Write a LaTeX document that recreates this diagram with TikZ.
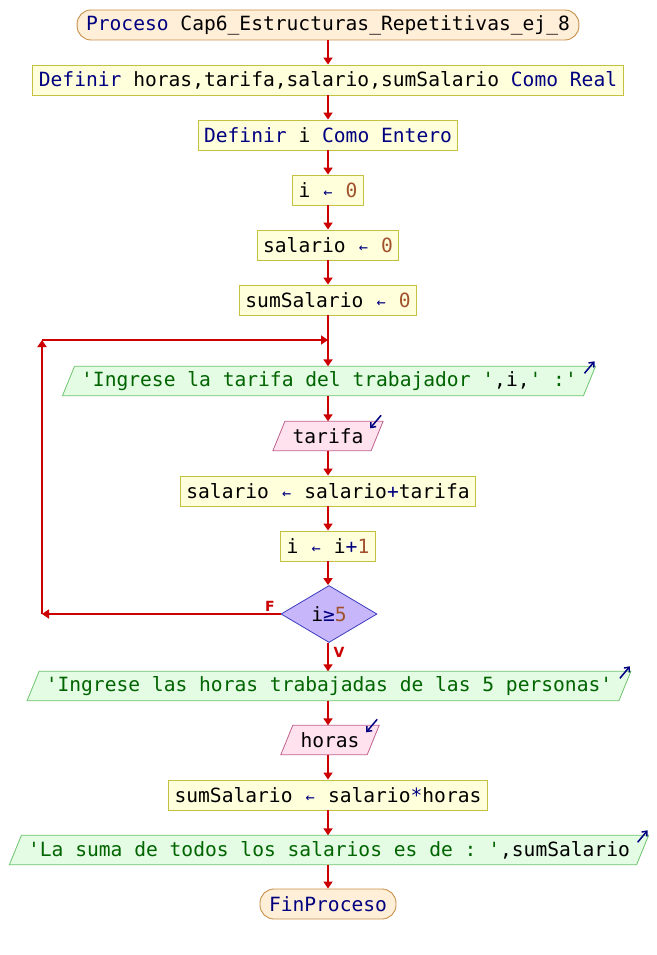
\documentclass[tikz,border=0pt]{standalone}
\usepackage{fontspec}
\usepackage{graphicx}
\setmonofont{DejaVu Sans Mono}
\setsansfont{DejaVu Sans}
\usetikzlibrary{arrows.meta,shapes.geometric,calc}
\pgfdeclarelayer{bg}
\pgfsetlayers{bg,main}

\definecolor{kwc}{HTML}{000080}
\definecolor{strc}{HTML}{006400}
\definecolor{numc}{HTML}{A0522D}
\definecolor{flowc}{HTML}{CC0000}
\definecolor{termfill}{HTML}{FFEFD8}
\definecolor{termdraw}{HTML}{C8904A}
\definecolor{procfill}{HTML}{FFFFDC}
\definecolor{procdraw}{HTML}{C4C040}
\definecolor{outfill}{HTML}{E4FBE4}
\definecolor{outdraw}{HTML}{6CC46C}
\definecolor{infill}{HTML}{FFE2EE}
\definecolor{indraw}{HTML}{C0608E}
\definecolor{decfill}{HTML}{C8B6FA}
\definecolor{decdraw}{HTML}{3C3CC0}

\newcommand\kw[1]{\textcolor{kwc}{#1}}
\newcommand\str[1]{\textcolor{strc}{#1}}
\newcommand\num[1]{\textcolor{numc}{#1}}
\newcommand\op[1]{\textcolor{kwc}{#1}}
\newcommand\asg{\makebox[0.602em]{\textcolor{kwc}{\scalebox{0.78}{←}}}}

% parallelogram behind an input/output node
\newcommand\ioshape[3]{%
  \begin{pgfonlayer}{bg}
    \filldraw[fill=#2,draw=#3,line width=0.8pt]
      ($(#1.south west)+(-6,0)$) -- ($(#1.north west)+(6,0)$) --
      ($(#1.north east)+(6,0)$) -- ($(#1.south east)+(-6,0)$) -- cycle;
  \end{pgfonlayer}}
% small icon arrows on output (up-right) and input (down-left)
\newcommand\outicon[1]{%
  \draw[icon] ($(#1.north east)+(-5,7)$) -- ($(#1.north east)+(5,-5)$);}
\newcommand\inicon[1]{%
  \draw[icon] ($(#1.north east)+(4,-6)$) -- ($(#1.north east)+(-7,7)$);}

\begin{document}
\begin{tikzpicture}[x=1pt,y=-1pt,
  base/.style={font=\ttfamily\fontsize{19.6}{22}\selectfont, inner ysep=0pt,
    minimum height=30pt, anchor=center},
  term/.style={base, rectangle, rounded corners=14pt, fill=termfill,
    draw=termdraw, line width=0.9pt, inner xsep=9pt},
  proc/.style={base, rectangle, fill=procfill, draw=procdraw,
    line width=0.9pt, inner xsep=6pt},
  outnode/.style={base, rectangle, minimum height=29pt, inner xsep=12.5pt},
  innode/.style={base, rectangle, minimum height=29pt, inner xsep=13.5pt},
  dec/.style={base, diamond, fill=decfill, draw=decdraw, line width=0.8pt,
    inner sep=0pt, minimum width=96pt, minimum height=57pt},
  flow/.style={draw=flowc, line width=1.8pt,
    -{Triangle[length=7pt,width=9pt]}},
  icon/.style={draw=kwc, line width=1.5pt, -{Straight Barb[length=4pt,width=7pt]}},
  lbl/.style={text=flowc, font=\sffamily\bfseries\fontsize{14}{14}\selectfont}]

\useasboundingbox (0,0) rectangle (656,955);

\node[term] (p0) at (328,25) {\kw{Proceso} Cap6\_Estructuras\_Repetitivas\_ej\_8};
\node[proc] (p1) at (328,80) {\kw{Definir} horas,tarifa,salario,sumSalario \kw{Como} \kw{Real}};
\node[proc] (p2) at (328,135) {\kw{Definir} i \kw{Como} \kw{Entero}};
\node[proc] (a1) at (328,190) {i \asg{} \num{0}};
\node[proc] (a2) at (328,245) {salario \asg{} \num{0}};
\node[proc] (a3) at (328,300) {sumSalario \asg{} \num{0}};
\node[outnode] (o1) at (329,381) {\str{'Ingrese la tarifa del trabajador '},i,\str{' :'}};
\node[innode] (in1) at (328,436) {tarifa};
\node[proc] (a4) at (328,491) {salario \asg{} salario\op{+}tarifa};
\node[proc] (a5) at (328,546) {i \asg{} i\op{+}\num{1}};
\node[dec] (d) at (329,614) {i\op{≥}\num{5}};
\node[outnode] (o2) at (329,686) {\str{'Ingrese las horas trabajadas de las 5 personas'}};
\node[innode] (in2) at (330,740) {horas};
\node[proc] (a6) at (328,795) {sumSalario \asg{} salario\op{*}horas};
\node[outnode] (o3) at (329,850) {\str{'La suma de todos los salarios es de : '},sumSalario};
\node[term] (p9) at (328,904) {\kw{FinProceso}};

\ioshape{o1}{outfill}{outdraw}
\ioshape{o2}{outfill}{outdraw}
\ioshape{o3}{outfill}{outdraw}
\ioshape{in1}{infill}{indraw}
\ioshape{in2}{infill}{indraw}

\outicon{o1}
\outicon{o2}
\outicon{o3}
\inicon{in1}
\inicon{in2}

% straight flow down the middle
\draw[flow] (p0.south) -- (p0.south |- p1.north);
\draw[flow] (p1.south) -- (p1.south |- p2.north);
\draw[flow] (p2.south) -- (p2.south |- a1.north);
\draw[flow] (a1.south) -- (a1.south |- a2.north);
\draw[flow] (a2.south) -- (a2.south |- a3.north);
\draw[flow] (a3.south) -- (a3.south |- o1.north);
\draw[flow] (a3.south |- o1.south) -- (a3.south |- in1.north);
\draw[flow] (in1.south -| a3.south) -- (a3.south |- a4.north);
\draw[flow] (a4.south) -- (a4.south |- a5.north);
\draw[flow] (a5.south) -- (a5.south |- d.north);
\draw[flow] (d.south -| a5.south) -- (a5.south |- o2.north);
\draw[flow] (a5.south |- o2.south) -- (a5.south |- in2.north);
\draw[flow] (a5.south |- in2.south) -- (a5.south |- a6.north);
\draw[flow] (a6.south) -- (a6.south |- o3.north);
\draw[flow] (a6.south |- o3.south) -- (a6.south |- p9.north);

% loop back when the condition is false
\coordinate (lb) at (42,614);
\coordinate (lt) at (42,340);
\coordinate (jn) at (328,340);
\draw[flow] (d.west) -- (lb);
\draw[flow] (lb) -- (lt);
\draw[flow] (lt) -- (jn);

\node[lbl] (fl) at (270,606) {F};
\node[lbl] (vl) at (339,652) {V};
\end{tikzpicture}
\end{document}
